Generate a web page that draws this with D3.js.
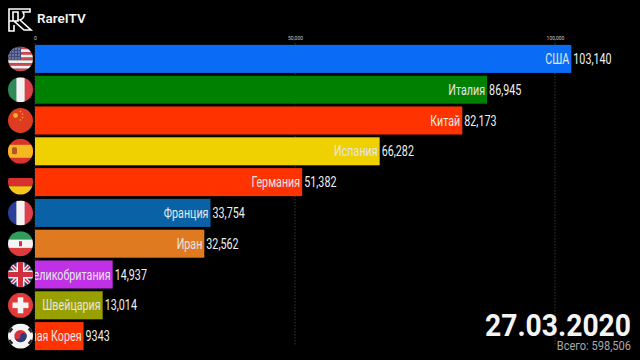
<!DOCTYPE html>
<html>
<head>
<meta charset="utf-8">
<script src="https://d3js.org/d3.v7.min.js"></script>
<style>
  html, body { margin: 0; padding: 0; background: #000; overflow: hidden; }
  text { font-family: Roboto, sans-serif; }
</style>
</head>
<body>
<svg id="chart" width="640" height="360"></svg>
<script>
let countries = ['США', 'Италия', 'Китай', 'Испания', 'Германия', 'Франция', 'Иран', 'Великобритания', 'Швейцария', 'Южная Корея']
let cases = [103140, 86945, 82173, 66282, 51382, 33754, 32562, 14937, 13014, 9343]
let valueLabels = ['103,140', '86,945', '82,173', '66,282', '51,382', '33,754', '32,562', '14,937', '13,014', '9343']
let barColors = ['#0a6cf4', '#008000', '#ff3300', '#efd000', '#ff3300', '#0a62a6', '#e07a20', '#bf30e6', '#98a000', '#ff3300']
let flagNames = ['us', 'it', 'cn', 'es', 'de', 'fr', 'ir', 'gb', 'ch', 'kr']
let tickValues = [0, 50000, 100000]
let dateLabel = '27.03.2020'
let totalLabel = 'Всего: 598,506'

let svg = d3.select('#chart')
let defs = svg.append('defs')

let x = d3.scaleLinear().domain([0, 100000]).range([35, 555])
let y = d3.scaleBand().domain(countries).range([43.5, 351.5]).paddingInner(0.09).paddingOuter(0.045)

// dashed grid and tick labels
let axis = svg.append('g')
    .attr('transform', 'translate(0,42)')
    .call(d3.axisTop(x).tickValues(tickValues).tickSize(0).tickFormat(d3.format(',')))
axis.select('.domain').remove()
axis.selectAll('text')
    .attr('fill', '#c8c8c8')
    .attr('font-size', 5)
    .attr('y', -2)
svg.append('g').selectAll('line')
    .data(tickValues)
    .enter().append('line')
    .attr('x1', d => x(d)).attr('x2', d => x(d))
    .attr('y1', 43).attr('y2', 345)
    .attr('stroke', '#555')
    .attr('stroke-width', 0.7)
    .attr('stroke-dasharray', '1.5,1.5')

// bars
let rows = countries.map((c, i) => ({ name: c, value: cases[i], label: valueLabels[i], color: barColors[i], flag: flagNames[i] }))

svg.append('g').selectAll('rect')
    .data(rows)
    .enter().append('rect')
    .attr('x', x(0))
    .attr('y', d => y(d.name))
    .attr('width', d => x(d.value) - x(0))
    .attr('height', y.bandwidth())
    .attr('fill', d => d.color)

// names get cut at the axis line when they do not fit
defs.append('clipPath').attr('id', 'labelClip')
    .append('rect').attr('x', x(0)).attr('y', 0).attr('width', 605).attr('height', 360)

let condensed = 0.74
svg.append('g').attr('clip-path', 'url(#labelClip)').selectAll('text')
    .data(rows)
    .enter().append('text')
    .attr('transform', d => `translate(${x(d.value) - 2},${y(d.name) + y.bandwidth() / 2 + 5}) scale(${condensed},1)`)
    .attr('text-anchor', 'end')
    .attr('font-size', 14.5)
    .attr('fill', '#e6e6e6')
    .text(d => d.name)

svg.append('g').selectAll('text')
    .data(rows)
    .enter().append('text')
    .attr('transform', d => `translate(${x(d.value) + 2},${y(d.name) + y.bandwidth() / 2 + 5}) scale(${condensed},1)`)
    .attr('font-size', 14.5)
    .attr('fill', '#f0f0f0')
    .text(d => d.label)

// flags, drawn in a 25x25 box around the circle centre
function bands(g, cols, vertical) {
  let band = d3.scaleBand().domain(d3.range(cols.length)).range([-12.5, 12.5])
  g.selectAll('rect.b').data(cols).enter().append('rect').attr('class', 'b')
    .attr('x', (d, i) => vertical ? band(i) : -12.5)
    .attr('y', (d, i) => vertical ? -12.5 : band(i))
    .attr('width', vertical ? band.bandwidth() + 0.3 : 25)
    .attr('height', vertical ? 25 : band.bandwidth() + 0.3)
    .attr('fill', d => d)
}

let flagDraw = {
  us(g) {
    let stripe = d3.scaleBand().domain(d3.range(9)).range([-12.5, 12.5])
    d3.range(9).forEach(i => g.append('rect').attr('x', -12.5).attr('y', stripe(i)).attr('width', 25).attr('height', stripe.bandwidth() + 0.2)
      .attr('fill', i % 2 ? '#eeeeee' : '#c8484f'))
    g.append('rect').attr('x', -12.5).attr('y', -12.5).attr('width', 13).attr('height', 13).attr('fill', '#3d4a7a')
    d3.range(4).forEach(r => d3.range(4).forEach(c => g.append('circle')
      .attr('cx', -10.5 + c * 3).attr('cy', -10 + r * 3).attr('r', 0.6).attr('fill', '#dde')))
  },
  it(g) { bands(g, ['#2e8b57', '#f2f2f2', '#d8404a'], true) },
  cn(g) {
    bands(g, ['#de3c20'], false)
    g.append('circle').attr('cx', -5).attr('cy', -5).attr('r', 2.4).attr('fill', '#f0b020')
    ;[[0, -9], [2, -6.5], [2, -3], [0, -0.5]].forEach(p => g.append('circle').attr('cx', p[0]).attr('cy', p[1]).attr('r', 0.8).attr('fill', '#f0b020'))
  },
  es(g) {
    g.append('rect').attr('x', -12.5).attr('y', -12.5).attr('width', 25).attr('height', 25).attr('fill', '#d8332c')
    g.append('rect').attr('x', -12.5).attr('y', -6.5).attr('width', 25).attr('height', 13).attr('fill', '#f5b81e')
    g.append('rect').attr('x', -8.5).attr('y', -4).attr('width', 5).attr('height', 7).attr('rx', 1.5).attr('fill', '#b5532a')
  },
  de(g) { bands(g, ['#000000', '#d8302c', '#f5c518'], false) },
  fr(g) { bands(g, ['#2a3f9c', '#f4f4f4', '#e0404a'], true) },
  ir(g) {
    bands(g, ['#2f9e5a', '#f4f4f4', '#dd3c3c'], false)
    g.append('rect').attr('x', -1.5).attr('y', -2.5).attr('width', 3).attr('height', 5).attr('fill', '#cc3344')
  },
  gb(g) {
    g.append('rect').attr('x', -12.5).attr('y', -12.5).attr('width', 25).attr('height', 25).attr('fill', '#2b3f7e')
    let diag = [[-12.5, -12.5, 12.5, 12.5], [-12.5, 12.5, 12.5, -12.5]]
    diag.forEach(l => g.append('line').attr('x1', l[0]).attr('y1', l[1]).attr('x2', l[2]).attr('y2', l[3]).attr('stroke', '#f0f0f0').attr('stroke-width', 4))
    diag.forEach(l => g.append('line').attr('x1', l[0]).attr('y1', l[1]).attr('x2', l[2]).attr('y2', l[3]).attr('stroke', '#cf3040').attr('stroke-width', 1.4))
    g.append('rect').attr('x', -12.5).attr('y', -4).attr('width', 25).attr('height', 8).attr('fill', '#f0f0f0')
    g.append('rect').attr('x', -4).attr('y', -12.5).attr('width', 8).attr('height', 25).attr('fill', '#f0f0f0')
    g.append('rect').attr('x', -12.5).attr('y', -2.5).attr('width', 25).attr('height', 5).attr('fill', '#cf3040')
    g.append('rect').attr('x', -2.5).attr('y', -12.5).attr('width', 5).attr('height', 25).attr('fill', '#cf3040')
  },
  ch(g) {
    bands(g, ['#e03a3a'], false)
    g.append('rect').attr('x', -8).attr('y', -2.8).attr('width', 16).attr('height', 5.6).attr('fill', '#f4f4f4')
    g.append('rect').attr('x', -2.8).attr('y', -8).attr('width', 5.6).attr('height', 16).attr('fill', '#f4f4f4')
  },
  kr(g) {
    bands(g, ['#f4f4f4'], false)
    g.append('circle').attr('r', 6.2).attr('fill', '#d8303c')
    g.append('path').attr('d', 'M-6.2,0 A3.1,3.1 0 0 0 0,0 A3.1,3.1 0 0 1 6.2,0 A6.2,6.2 0 0 1 -6.2,0 Z').attr('fill', '#24407e')
    ;[[-10, -6, 40], [10, -6, -40], [-10, 6, -40], [10, 6, 40]].forEach(t => g.append('rect')
      .attr('x', -1.6).attr('y', -2.4).attr('width', 3.2).attr('height', 4.8).attr('fill', '#222')
      .attr('transform', `translate(${t[0]},${t[1]}) rotate(${t[2]})`))
  }
}

defs.append('clipPath').attr('id', 'flagClip').append('circle').attr('r', 12.5)

let flags = svg.append('g').selectAll('g')
    .data(rows)
    .enter().append('g')
    .attr('transform', d => `translate(20.5,${y(d.name) + y.bandwidth() / 2})`)
    .append('g')
    .attr('clip-path', 'url(#flagClip)')
flags.each(function (d) { flagDraw[d.flag](d3.select(this)) })

// logo and channel name
let logo = svg.append('g').attr('fill', 'none').attr('stroke', '#fff').attr('stroke-width', 1.6)
logo.append('path').attr('d', 'M9,9 H30 V12 H23 C25,15 24,19 20,20 L31,30 H24 L14,21 H18 V12 H13 V21 H9 Z M9,21 V31 H14 V25')

svg.append('text')
    .attr('x', 37).attr('y', 23)
    .attr('font-family', 'Inter, sans-serif')
    .attr('font-size', 13.5)
    .attr('font-weight', 600)
    .attr('fill', '#f2f2f2')
    .text('RareITV')

// date and total
svg.append('text')
    .attr('transform', 'translate(631,336) scale(0.883,1)')
    .attr('text-anchor', 'end')
    .attr('font-size', 32)
    .attr('font-weight', 700)
    .attr('fill', '#f4f4f4')
    .text(dateLabel)
svg.append('text')
    .attr('transform', 'translate(631,349.5) scale(0.82,1)')
    .attr('text-anchor', 'end')
    .attr('font-size', 13.5)
    .attr('fill', '#a8a8a8')
    .text(totalLabel)
</script>
</body>
</html>
